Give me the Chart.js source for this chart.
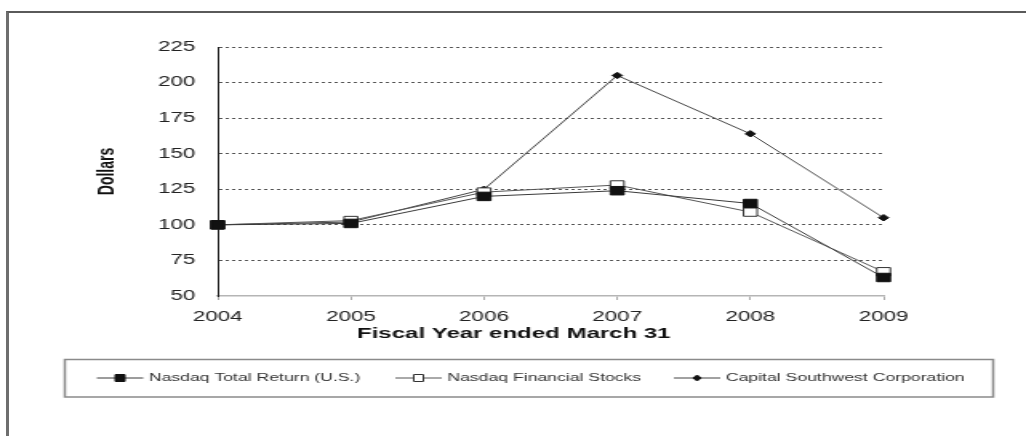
<!DOCTYPE html>
<html>
<head>
<meta charset="utf-8">
<script src="https://cdn.jsdelivr.net/npm/chart.js"></script>
<style>
  html, body { margin: 0; padding: 0; background: #fff; overflow: hidden; }
  body { width: 1026px; height: 436px; position: relative; }
  #frame {
    position: absolute; left: 6px; top: 11px; width: 1100px; height: 500px;
    border-top: 2px solid #5a5a5a; border-left: 3px solid #6e6e6e;
  }
  /* the original picture is stretched sideways, so the chart is drawn narrow and widened */
  #wrap {
    position: absolute; left: 0; top: 0; width: 641px; height: 436px;
    transform: scaleX(1.6006); transform-origin: 0 0;
  }
</style>
</head>
<body>
<div id="frame"></div>
<div id="wrap"><canvas id="chart"></canvas></div>
<script>
  const years = ["2004", "2005", "2006", "2007", "2008", "2009"];
  const nasdaqTotal = [100, 101, 120, 124, 115, 63];
  const nasdaqFinancial = [100, 103, 123, 128, 109, 67];
  const capitalSouthwest = [100, 102, 125, 205, 164, 105];
  const seriesNames = ["Nasdaq Total Return (U.S.)", "Nasdaq Financial Stocks", "Capital Southwest Corporation"];

  const FONT = "'Liberation Sans', Arial, sans-serif";

  // legend box and x axis title, drawn on the canvas
  const extras = {
    id: "extras",
    afterDraw(chart) {
      const ctx = chart.ctx;
      ctx.save();

      ctx.font = "bold 15px " + FONT;
      ctx.fillStyle = "#111";
      ctx.textAlign = "center";
      ctx.textBaseline = "middle";
      ctx.fillText("Fiscal Year ended March 31", 321, 334);

      ctx.strokeStyle = "#8a8a8a";
      ctx.lineWidth = 1.5;
      ctx.strokeRect(40.5, 359.5, 580, 37.5);

      const starts = [60.5, 247, 421];
      const y = 378;
      chart.data.datasets.forEach((ds, i) => {
        const x0 = starts[i];
        ctx.strokeStyle = ds.borderColor;
        ctx.lineWidth = 1;
        ctx.beginPath();
        ctx.moveTo(x0, y);
        ctx.lineTo(x0 + 29, y);
        ctx.stroke();
        const cx = x0 + 14.5;
        ctx.fillStyle = ds.pointBackgroundColor;
        ctx.strokeStyle = ds.pointBorderColor;
        ctx.beginPath();
        if (ds.pointStyle === "rectRot") {
          ctx.moveTo(cx, y - 3); ctx.lineTo(cx + 2.5, y); ctx.lineTo(cx, y + 3); ctx.lineTo(cx - 2.5, y);
          ctx.closePath();
        } else {
          ctx.rect(cx - 3, y - 3.5, 6, 7);
        }
        ctx.fill();
        ctx.stroke();

        ctx.fillStyle = "#333";
        ctx.font = "11px " + FONT;
        ctx.textAlign = "left";
        ctx.fillText(ds.label, x0 + 32.5, y);
      });
      ctx.restore();
    }
  };

  new Chart(document.getElementById("chart"), {
    type: "line",
    data: {
      labels: years,
      datasets: [
        {
          label: seriesNames[0],
          data: nasdaqTotal,
          borderColor: "#3a3a3a",
          borderWidth: 1,
          pointStyle: "rect",
          pointRadius: 6,
          pointBackgroundColor: "#111",
          pointBorderColor: "#111",
          pointBorderWidth: 1,
        },
        {
          label: seriesNames[1],
          data: nasdaqFinancial,
          borderColor: "#555",
          borderWidth: 1,
          pointStyle: "rect",
          pointRadius: 6,
          pointBackgroundColor: "#fff",
          pointBorderColor: "#333",
          pointBorderWidth: 1,
        },
        {
          label: seriesNames[2],
          data: capitalSouthwest,
          borderColor: "#444",
          borderWidth: 1,
          pointStyle: "rectRot",
          pointRadius: 3.2,
          pointBackgroundColor: "#111",
          pointBorderColor: "#111",
          pointBorderWidth: 1,
        },
      ],
    },
    options: {
      responsive: true,
      maintainAspectRatio: false,
      animation: false,
      layout: { padding: { left: 0, top: 47, right: 89, bottom: 0 } },
      plugins: {
        legend: { display: false },
        tooltip: { enabled: false },
      },
      elements: { line: { tension: 0 } },
      scales: {
        x: {
          offset: false,
          grid: { drawOnChartArea: false, drawTicks: true, tickLength: 4, color: "#aaa" },
          border: { color: "#b5b5b5", width: 1.5 },
          ticks: { padding: 9, color: "#222", font: { family: FONT, size: 14 }, maxRotation: 0 },
          afterFit: (scale) => { scale.height = 140; },
        },
        y: {
          min: 50,
          max: 225,
          ticks: { stepSize: 25, padding: 14, color: "#222", font: { family: FONT, size: 14 } },
          grid: {
            drawTicks: false,
            color: (c) => (c.tick && c.tick.value === 50 ? "rgba(0,0,0,0)" : "#555"),
            lineWidth: 1,
          },
          border: { color: "#222", width: 1, dash: [2, 2] },
          title: {
            display: true,
            text: "Dollars",
            color: "#111",
            font: { family: FONT, size: 14, weight: "bold" },
            padding: { top: 59, bottom: 0 },
          },
          afterFit: (scale) => { scale.width = 136; },
        },
      },
    },
    plugins: [extras],
  });
</script>
</body>
</html>
